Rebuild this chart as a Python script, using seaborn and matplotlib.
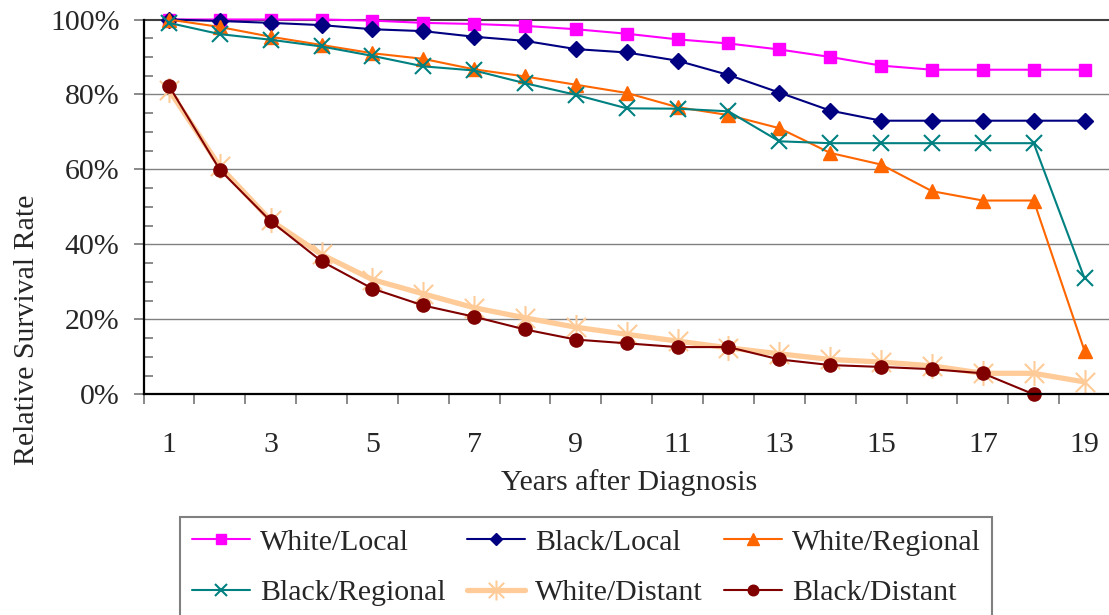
import numpy as np
import pandas as pd
import matplotlib
matplotlib.use("Agg")
import matplotlib.pyplot as plt
from matplotlib.path import Path
from matplotlib.ticker import MultipleLocator
import seaborn as sns

sns.set_theme(style="white")
plt.rcParams["font.family"] = ["Liberation Serif", "DejaVu Serif"]

years = list(range(1, 20))
white_local = [100, 100, 100, 100, 99.7, 99.1, 98.8, 98.3, 97.4, 96.2,
               94.7, 93.6, 92.0, 90.0, 87.7, 86.6, 86.6, 86.6, 86.6]
black_local = [100, 99.6, 99.1, 98.5, 97.4, 96.9, 95.4, 94.3, 92.1, 91.2,
               89.0, 85.2, 80.5, 75.7, 73.0, 73.0, 73.0, 73.0, 73.0]
white_regional = [100, 98.0, 95.4, 93.2, 91.0, 89.5, 86.7, 84.8, 82.6, 80.4,
                  76.6, 74.5, 71.0, 64.4, 61.3, 54.2, 51.7, 51.7, 11.6]
black_regional = [99.1, 96.1, 94.6, 92.8, 90.3, 87.5, 86.4, 83.0, 79.9, 76.3,
                  76.2, 75.5, 67.5, 67.0, 67.0, 67.0, 67.0, 67.0, 30.9]
white_distant = [81.2, 60.8, 46.4, 37.3, 30.6, 26.8, 23.1, 20.4, 17.9, 16.0,
                 14.2, 12.4, 10.8, 9.3, 8.6, 7.6, 5.6, 5.6, 3.3]
black_distant = [82.3, 59.9, 46.2, 35.5, 28.2, 23.7, 20.7, 17.3, 14.6, 13.6,
                 12.6, 12.6, 9.3, 7.8, 7.3, 6.7, 5.6, 0.0]  # no year 19

# Excel-like "star" marker: an X with a vertical bar
star = Path([(-1, -1), (1, 1), (-1, 1), (1, -1), (0, -1.3), (0, 1.3)],
            [Path.MOVETO, Path.LINETO, Path.MOVETO, Path.LINETO, Path.MOVETO, Path.LINETO])

series = [
    ("White/Local", white_local, dict(color="#FF00FF", marker="s", markersize=9, linewidth=1.5)),
    ("Black/Local", black_local, dict(color="#000080", marker="D", markersize=8, linewidth=1.5)),
    ("White/Regional", white_regional, dict(color="#FF6600", marker="^", markersize=10, linewidth=1.5)),
    ("Black/Regional", black_regional, dict(color="#008080", marker="x", markersize=11, linewidth=1.5, mew=1.5)),
    ("White/Distant", white_distant, dict(color="#FFCC99", marker=star, markersize=18, linewidth=3.8, mew=1.5)),
    ("Black/Distant", black_distant, dict(color="#800000", marker="o", markersize=9.5, linewidth=1.5)),
]

W, H = 1109, 615
fig = plt.figure(figsize=(W / 100, H / 100), dpi=100)
x0, x1 = 143.5, 1110
y0, y1 = 19.5, 394.3
ax = fig.add_axes([x0 / W, 1 - y1 / H, (x1 - x0) / W, (y1 - y0) / H])

for name, vals, kw in series:
    df = pd.DataFrame({"year": years[:len(vals)], "rate": vals})
    kw = dict(kw)
    kw.setdefault("mew", 1)
    sns.lineplot(data=df, x="year", y="rate", ax=ax, label=name,
                 markeredgecolor=kw["color"], clip_on=False, **kw)

ax.set_xlim(0.5, 19.5)
ax.set_ylim(0, 100)

# grid
for v in [20, 40, 60, 80]:
    ax.axhline(v, color="#808080", linewidth=1.0, zorder=0)
ax.axhline(100, color="#404040", linewidth=1.5, zorder=0, clip_on=False)

for s in ["top", "right"]:
    ax.spines[s].set_visible(False)
for s in ["left", "bottom"]:
    ax.spines[s].set_color("black")
    ax.spines[s].set_linewidth(1.6)

ax.set_xticks(range(1, 20, 2))
ax.set_xticks(np.arange(0.5, 20, 1), minor=True)
ax.tick_params(axis="x", which="major", length=0, pad=27, labelsize=21.5)
ax.tick_params(axis="x", which="minor", length=7.2, width=1.3, color="#808080",
               direction="out", bottom=True)

ax.set_yticks(range(0, 101, 20))
ax.set_yticklabels([f"{v}%" for v in range(0, 101, 20)])
ax.yaxis.set_minor_locator(MultipleLocator(5))
ax.tick_params(axis="y", which="major", length=7.2, width=1.3, color="#808080",
               direction="out", pad=10, labelsize=21.5, left=True)
ax.tick_params(axis="y", which="minor", length=6.5, width=1.3, color="#808080",
               direction="in", left=True)

ax.set_xlabel("Years after Diagnosis", fontsize=21.5, va="top")
ax.xaxis.set_label_coords(0.5028, -0.2)
ax.set_ylabel("Relative Survival Rate", fontsize=21.5)
ax.yaxis.set_label_coords(-0.1076, 0.172)

# legend filled row by row, as in the original (3 columns)
handles, labels = ax.get_legend_handles_labels()
order = [0, 3, 1, 4, 2, 5]
leg = ax.legend([handles[i] for i in order], [labels[i] for i in order], ncol=3,
                loc="upper left", bbox_to_anchor=(180 / W, 1 - 516.7 / H),
                bbox_transform=fig.transFigure, borderaxespad=0, fontsize=21.5,
                frameon=True, fancybox=False, framealpha=1, edgecolor="#808080",
                handlelength=1.94, handletextpad=0.33, columnspacing=0.72,
                labelspacing=0.8, borderpad=0.4, markerscale=0.8)
leg.get_frame().set_linewidth(1.5)

fig.savefig("out.png", dpi=100)
